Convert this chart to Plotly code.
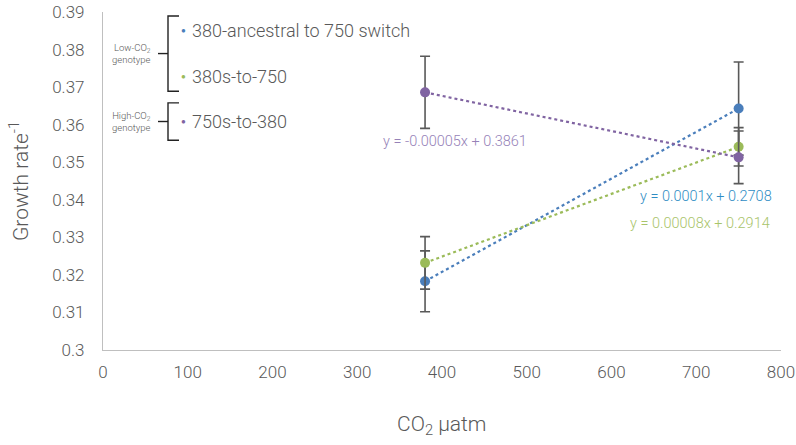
import numpy as np
import plotly.graph_objects as go

# ---- data ----
co2 = [380, 750]
series_names = ["380-ancestral to 750 switch", "380s-to-750", "750s-to-380"]
blue_vals = [0.3183, 0.3643]
blue_err = [0.0081, 0.0124]
green_vals = [0.3232, 0.3541]
green_err = [0.0070, 0.0051]
purple_vals = [0.3686, 0.3513]
purple_err = [0.0096, 0.0070]
eq_texts = ["y = 0.0001x + 0.2708", "y = 0.00008x + 0.2914", "y = -0.00005x + 0.3861"]
x_ticks = [0, 100, 200, 300, 400, 500, 600, 700, 800]
y_ticks = [0.30, 0.31, 0.32, 0.33, 0.34, 0.35, 0.36, 0.37, 0.38, 0.39]
y_tick_labels = ["0.3", "0.31", "0.32", "0.33", "0.34", "0.35", "0.36", "0.37", "0.38", "0.39"]

colors = ["#4A7EBB", "#9BBB59", "#8064A2"]
eq_colors = ["#2F8DC4", "#A9C46A", "#9682B8"]
FONT = "Roboto, 'Helvetica Neue', Arial, sans-serif"
GRAY = "#595959"

fig = go.Figure()
all_vals = [blue_vals, green_vals, purple_vals]
all_err = [blue_err, green_err, purple_err]

# trend lines (linear fit through the points)
xs = np.array(co2, dtype=float)
for vals, c in zip(all_vals, colors):
    k, b = np.polyfit(xs, np.array(vals), 1)
    fig.add_trace(go.Scatter(x=xs, y=k * xs + b, mode="lines",
                             line=dict(color=c, width=2.2, dash="dot"),
                             showlegend=False, hoverinfo="skip"))

# points with error bars
for name, vals, err, c in zip(series_names, all_vals, all_err, colors):
    fig.add_trace(go.Scatter(x=co2, y=vals, mode="markers", name=name,
                             marker=dict(color=c, size=10),
                             error_y=dict(type="data", array=err, color=GRAY,
                                          thickness=1.6, width=5),
                             showlegend=False))

annotations = []
# trend equations (positions in data units)
eq_pos = [(706, 0.3408), (700, 0.3337), (455, 0.3554)]
for t, c, (ex, ey) in zip(eq_texts, eq_colors, eq_pos):
    annotations.append(dict(x=(ex - 103) / 0.8475, y=ey, xref="x", yref="y", text=t,
                            showarrow=False, font=dict(family=FONT, size=14.5, color=c,
                                                       weight=300),
                            xanchor="center", yanchor="middle"))

# custom legend
def px_x(p):
    return (p - 103) / 678.0

def px_y(p):
    return (350 - p) / 338.3

leg_y = [30, 76.7, 121.7]
for name, c, ly in zip(series_names, colors, leg_y):
    annotations.append(dict(x=px_x(183), y=px_y(ly), xref="paper", yref="paper", text="●",
                            showarrow=False, font=dict(size=8, color=c),
                            xanchor="center", yanchor="middle"))
    annotations.append(dict(x=px_x(190), y=px_y(ly), xref="paper", yref="paper", text=name,
                            showarrow=False, font=dict(family=FONT, size=18, color=GRAY,
                                                       weight=300),
                            xanchor="left", yanchor="middle"))

annotations.append(dict(x=px_x(153), y=px_y(53.5), xref="paper", yref="paper",
                        text="Low-CO<sub>2</sub><br>genotype", showarrow=False, align="right",
                        font=dict(family=FONT, size=9.5, color=GRAY, weight=300),
                        xanchor="right", yanchor="middle"))
annotations.append(dict(x=px_x(153), y=px_y(121.5), xref="paper", yref="paper",
                        text="High-CO<sub>2</sub><br>genotype", showarrow=False, align="right",
                        font=dict(family=FONT, size=9.5, color=GRAY, weight=300),
                        xanchor="right", yanchor="middle"))

# axis titles
annotations.append(dict(x=0, y=0.5, xref="paper", yref="paper", xshift=-84,
                        text="Growth rate<sup>-1</sup>", textangle=-90, showarrow=False,
                        font=dict(family=FONT, size=21, color=GRAY, weight=300),
                        xanchor="center", yanchor="middle"))
annotations.append(dict(x=0.5, y=0, xref="paper", yref="paper", yshift=-75,
                        text="CO<sub>2</sub> µatm", showarrow=False,
                        font=dict(family=FONT, size=21, color=GRAY, weight=300),
                        xanchor="center", yanchor="middle"))

shapes = []
bl = dict(color="#222222", width=1.4)
for top, bot, mid in [(15.7, 91, 53.3), (102.7, 140, 121.3)]:
    path = (f"M {px_x(179)},{px_y(top)} L {px_x(168)},{px_y(top)} "
            f"L {px_x(168)},{px_y(bot)} L {px_x(179)},{px_y(bot)}")
    shapes.append(dict(type="path", xref="paper", yref="paper", path=path, line=bl))
    shapes.append(dict(type="line", xref="paper", yref="paper", x0=px_x(158), x1=px_x(168),
                       y0=px_y(mid), y1=px_y(mid), line=bl))

fig.update_layout(
    width=796, height=445,
    margin=dict(l=103, r=15, t=12, b=95, autoexpand=False),
    paper_bgcolor="white", plot_bgcolor="white",
    showlegend=False,
    font=dict(family=FONT, color=GRAY, weight=300),
    xaxis=dict(range=[0, 800], tickvals=x_ticks, showgrid=False, zeroline=False,
               showline=True, linecolor="#BFBFBF", linewidth=1.2, ticks="",
               tickfont=dict(size=17, color=GRAY, family=FONT, weight=300),
               ticklabelstandoff=6, automargin=False),
    yaxis=dict(range=[0.30, 0.39], tickvals=y_ticks, ticktext=y_tick_labels,
               showgrid=False, zeroline=False, showline=True, linecolor="#BFBFBF",
               linewidth=1.2, ticks="",
               tickfont=dict(size=17, color=GRAY, family=FONT, weight=300),
               ticklabelstandoff=14, automargin=False),
    annotations=annotations,
    shapes=shapes,
)

fig.write_html("out.html", config={"displayModeBar": False},
               post_script="document.body.style.margin='0';document.body.style.overflow='hidden';")
